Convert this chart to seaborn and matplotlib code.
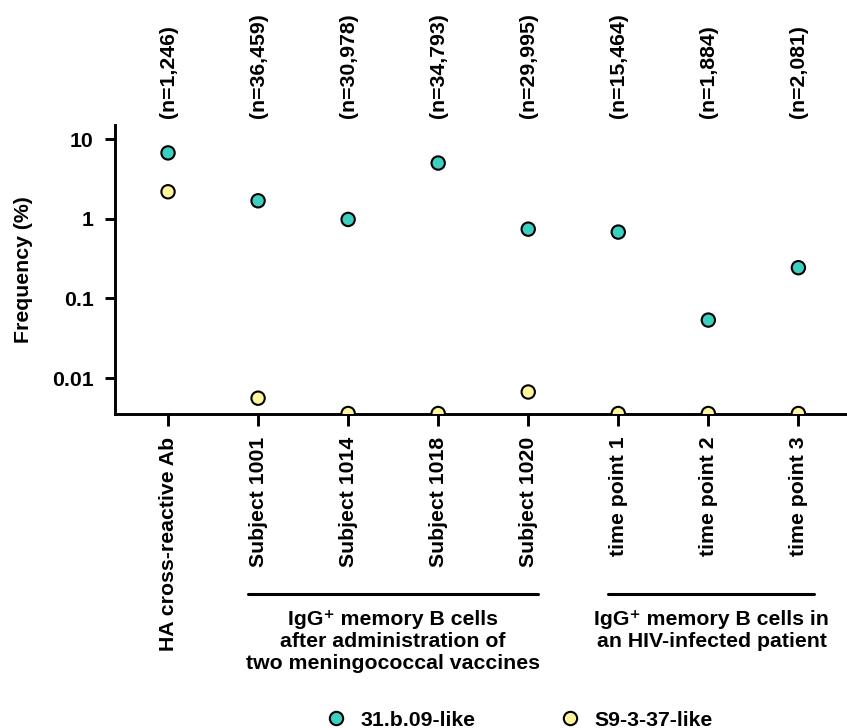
import matplotlib
matplotlib.use("Agg")
import matplotlib.pyplot as plt
import matplotlib.transforms as mtransforms
from matplotlib.lines import Line2D
import seaborn as sns
import pandas as pd

# ---------------- data ----------------
categories = ["HA cross-reactive Ab", "Subject 1001", "Subject 1014", "Subject 1018",
              "Subject 1020", "time point 1", "time point 2", "time point 3"]
n_labels = ["(n=1,246)", "(n=36,459)", "(n=30,978)", "(n=34,793)",
            "(n=29,995)", "(n=15,464)", "(n=1,884)", "(n=2,081)"]
series_names = ["31.b.09-like", "S9-3-37-like"]
freq_31b09 = [6.7, 1.68, 0.98, 5.0, 0.74, 0.68, 0.0535, 0.243]
# values of 0 are drawn on the axis floor
axis_floor = 0.0036
freq_s9337 = [2.18, 0.0056, axis_floor, axis_floor, 0.0067, axis_floor, axis_floor, axis_floor]
yticks = [0.01, 0.1, 1, 10]
ytick_labels = ["0.01", "0.1", "1", "10"]
group1_label = "IgG\u207a memory B cells\nafter administration of\ntwo meningococcal vaccines"
group2_label = "IgG\u207a memory B cells in\nan HIV-infected patient"

df = pd.DataFrame({
    "category": categories * 2,
    "freq": freq_31b09 + freq_s9337,
    "series": [series_names[0]] * len(categories) + [series_names[1]] * len(categories),
})

colors = {series_names[0]: "#3DCFC0", series_names[1]: "#FFF59E"}

# ---------------- figure ----------------
sns.set_style("white")
plt.rcParams["font.family"] = ["Liberation Sans", "DejaVu Sans"]
plt.rcParams["font.weight"] = "bold"
for k in ["text.color", "axes.labelcolor", "xtick.color", "ytick.color", "axes.edgecolor"]:
    plt.rcParams[k] = "black"

FS = 15.3

W, H = 847, 728
fig = plt.figure(figsize=(W / 100, H / 100), dpi=100)
ax = fig.add_axes([115 / W, 1 - 413.5 / H, (W - 115) / W, (413.5 - 125) / H])

sns.stripplot(data=df, x="category", y="freq", hue="series", order=categories,
              hue_order=series_names, palette=colors, jitter=False, dodge=False,
              size=9.6, linewidth=1.5, edgecolor="black", ax=ax, legend=False, zorder=3)

ax.set_yscale("log")
ax.set_ylim(axis_floor, 15.0)
ax.set_xlim(-0.589, 7.54)
ax.minorticks_off()
ax.set_yticks(yticks)
ax.set_yticklabels(ytick_labels)
ax.yaxis.set_minor_locator(matplotlib.ticker.NullLocator())

for side in ["top", "right"]:
    ax.spines[side].set_visible(False)
for side in ["left", "bottom"]:
    ax.spines[side].set_linewidth(2.1)
    ax.spines[side].set_color("black")

ax.tick_params(axis="x", direction="out", length=8.5, width=2.1, pad=8,
               labelsize=FS, labelrotation=90, colors="black", bottom=True)
ax.tick_params(axis="y", direction="out", length=7, width=2.1, pad=8.5,
               labelsize=FS, colors="black", left=True)
for lab in ax.get_xticklabels():
    lab.set_fontweight("bold")
    lab.set_va("top")
for lab in ax.get_yticklabels():
    lab.set_fontweight("bold")

ax.set_xlabel("")
ax.set_ylabel("Frequency (%)", fontsize=FS, fontweight="bold", va="center")
ax.yaxis.set_label_coords((24 - 115) / (W - 115), 0.5)
ax.grid(False)

# n labels at top
trans_top = mtransforms.blended_transform_factory(ax.transData, fig.transFigure)
for i, lab in enumerate(n_labels):
    ax.text(i, 1 - 118 / H, lab, transform=trans_top, rotation=90, ha="center",
            va="bottom", fontsize=FS, fontweight="bold", clip_on=False)

# group brackets
line_y = 1 - 594 / H
ax.add_line(Line2D([0.89, 4.11], [line_y, line_y], transform=trans_top, color="black",
                   linewidth=2.2, clip_on=False))
ax.add_line(Line2D([4.89, 7.17], [line_y, line_y], transform=trans_top, color="black",
                   linewidth=2.2, clip_on=False))
ax.text(2.5, 1 - 610 / H, group1_label, transform=trans_top, ha="center", va="top",
        fontsize=FS, fontweight="bold", linespacing=1.2, clip_on=False)
ax.text(6.04, 1 - 610 / H, group2_label, transform=trans_top, ha="center", va="top",
        fontsize=FS, fontweight="bold", linespacing=1.2, clip_on=False)

# legend
handles = [Line2D([], [], marker="o", linestyle="", markersize=9.6,
                  markerfacecolor=colors[s], markeredgecolor="black",
                  markeredgewidth=1.5, label=s) for s in series_names]
leg = fig.legend(handles=handles, loc="center", bbox_to_anchor=(0.6128, 1 - 720 / H),
                 ncol=2, frameon=False, fontsize=FS, handletextpad=0.66,
                 columnspacing=3.96, handlelength=1.0)
for t in leg.get_texts():
    t.set_fontweight("bold")

fig.savefig("out.png", dpi=100)
